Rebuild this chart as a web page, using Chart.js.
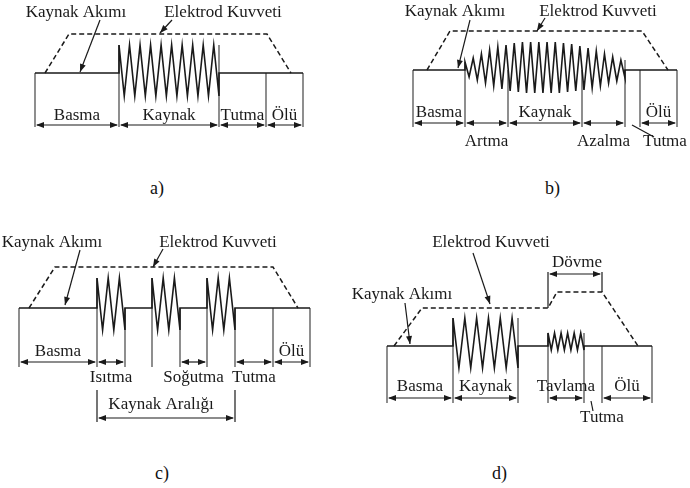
<!DOCTYPE html>
<html>
<head>
<meta charset="utf-8">
<script src="https://cdn.jsdelivr.net/npm/chart.js@4.4.0/dist/chart.umd.min.js"></script>
<style>
  body { margin: 0; background: #fff; width: 690px; height: 488px; position: relative; overflow: hidden; font-family: 'Liberation Serif', 'DejaVu Serif', serif; }
  canvas { position: absolute; }
  .cap { position: absolute; font-size: 18px; color: #111; line-height: 18px; }
</style>
</head>
<body>
<canvas id="pa"></canvas>
<canvas id="pb"></canvas>
<canvas id="pc"></canvas>
<canvas id="pd"></canvas>
<div class="cap" style="left:150px;top:179px">a)</div>
<div class="cap" style="left:545px;top:179px">b)</div>
<div class="cap" style="left:155px;top:464px">c)</div>
<div class="cap" style="left:492px;top:464px">d)</div>
<script>
// series names shown on every panel
const seriesNames = ['Kaynak Akımı', 'Elektrod Kuvveti'];

// a) basic cycle: phase boundaries (time), phase names, current bursts, force profile
const aBounds = [0, 84, 184, 231, 268];
const aPhases = ['Basma', 'Kaynak', 'Tutma', 'Ölü'];
const aPeaks = [28, 28, 28, 28, 28, 28, 28, 28, 28, 28];
const aTroughs = [-23, -23, -23, -23, -23, -23, -23, -23, -23, -23];
const aForceT = [10, 34, 232, 256];
const aForce = [0, 39, 39, 0];

// b) with current up-slope / down-slope
const bBounds = [0, 52, 95, 169, 212, 227, 264];
const bPhases = ['Basma', 'Artma', 'Kaynak', 'Azalma', 'Tutma', 'Ölü'];
const bPeaks = [8, 12, 16, 20, 23, 25, 27, 28, 28, 28, 28, 28, 27, 26, 24, 22, 19, 16, 13, 10];
const bTroughs = [-7, -10, -13, -16, -19, -21, -22, -23, -23, -23, -23, -23, -22, -21, -20, -18, -16, -13, -11, -8];
const bForceT = [14, 37, 229, 255];
const bForce = [0, 39, 39, 0];

// c) pulsed welding
const cBounds = [0, 78, 106, 133, 161, 188, 216, 254, 291];
const cPhases = ['Basma', 'Isıtma', '', '', 'Soğutma', '', 'Tutma', 'Ölü'];
const cPeaks = [30, 30, 30];
const cTroughs = [-22, -22, -22];
const cForceT = [10, 36, 254, 279];
const cForce = [0, 41, 41, 0];
const cRange = 'Kaynak Aralığı';

// d) with tempering and forging force
const dBounds = [0, 66, 131, 161, 197, 215, 265];
const dPhases = ['Basma', 'Kaynak', '', 'Tavlama', 'Tutma', 'Ölü'];
const dPeaks1 = [28, 28, 28, 28, 28, 28];
const dTroughs1 = [-22, -22, -22, -22, -22, -22];
const dPeaks2 = [13, 13, 13, 13, 13, 13];
const dTroughs2 = [-4, -4, -4, -4, -4, -4];
const dForceT = [7, 35, 161, 170, 215, 251];
const dForce = [0, 38, 38, 54, 54, 0];
const dForge = 'Dövme';

const INK = '#1a1a1a';
const FONT = "17px 'Liberation Serif', serif";

// zigzag of n peaks / n troughs between s and e, ending on a trough at e
function zigzag(s, e, peaks, troughs) {
  const d = (e - s) / (2 * peaks.length - 1);
  const pts = [];
  peaks.forEach((p, i) => {
    pts.push({ x: s + 2 * i * d, y: p });
    pts.push({ x: s + (2 * i + 1) * d, y: troughs[i] });
  });
  return pts;
}

function currentLine(bounds, bursts) {
  const pts = [{ x: bounds[0], y: 0 }];
  bursts.forEach(b => {
    pts.push({ x: b.s, y: 0 });
    pts.push(...zigzag(b.s, b.e, b.peaks, b.troughs));
    pts.push({ x: b.e, y: 0 });
  });
  pts.push({ x: bounds[bounds.length - 1], y: 0 });
  return pts;
}

function dividerLines(bounds, bursts, bottom, endTop) {
  const pts = [];
  bounds.forEach(t => {
    let top = 0;
    bursts.forEach(b => {
      if (b.s === t) top = b.peaks[0];
      if (b.e === t && endTop) top = b.peaks[b.peaks.length - 1];
    });
    pts.push({ x: t, y: top }, { x: t, y: bottom }, { x: t, y: null });
  });
  return pts;
}

function head(ctx, x1, y1, x2, y2, len, half) {
  const a = Math.atan2(y2 - y1, x2 - x1);
  const c = Math.cos(a), s = Math.sin(a);
  ctx.beginPath();
  ctx.moveTo(x2, y2);
  ctx.lineTo(x2 - len * c + half * s, y2 - len * s - half * c);
  ctx.lineTo(x2 - len * c - half * s, y2 - len * s + half * c);
  ctx.closePath();
  ctx.fill();
}

// draws dimension arrows, phase names and leader notes through the chart scales
const notesPlugin = {
  id: 'notes',
  afterDatasetsDraw(chart) {
    const L = chart.options.plugins.notes;
    const X = v => chart.scales.x.getPixelForValue(v);
    const Y = v => chart.scales.y.getPixelForValue(v);
    const ctx = chart.ctx;
    ctx.save();
    ctx.strokeStyle = INK;
    ctx.fillStyle = INK;
    ctx.lineWidth = 1.2;
    ctx.font = FONT;
    ctx.textAlign = 'center';
    ctx.textBaseline = 'middle';

    const dim = (a, b, y) => {
      const xa = X(a), xb = X(b), py = Y(y);
      ctx.beginPath();
      ctx.moveTo(xa + 2, py);
      ctx.lineTo(xb - 2, py);
      ctx.stroke();
      head(ctx, xb, py, xa + 1, py, 8, 3);
      head(ctx, xa, py, xb - 1, py, 8, 3);
    };

    L.phases.forEach((name, i) => {
      const a = L.bounds[i], b = L.bounds[i + 1];
      if (L.arrows.includes(i)) dim(a, b, L.arrowY);
      if (L.up.includes(i)) ctx.fillText(name, X((a + b) / 2), Y(L.upY));
      if (L.down.includes(i)) ctx.fillText(name, X((a + b) / 2), Y(L.downY));
    });

    (L.extra || []).forEach(e => {
      dim(e.a, e.b, e.y);
      e.ticks.forEach(tk => {
        ctx.beginPath();
        ctx.moveTo(X(tk[0]), Y(tk[1]));
        ctx.lineTo(X(tk[0]), Y(tk[2]));
        ctx.stroke();
      });
      ctx.fillText(e.text, X(e.tx), Y(e.ty));
    });

    L.notes.forEach(n => {
      ctx.fillText(n.text, X(n.x), Y(n.y));
      const x1 = X(n.from[0]), y1 = Y(n.from[1]), x2 = X(n.to[0]), y2 = Y(n.to[1]);
      ctx.beginPath();
      ctx.moveTo(x1, y1);
      ctx.lineTo(x2, y2);
      ctx.stroke();
      if (n.head) head(ctx, x1, y1, x2, y2, 8, 3);
    });
    ctx.restore();
  }
};

function makePanel(id, box, origin, data, notes) {
  const el = document.getElementById(id);
  el.style.left = box[0] + 'px';
  el.style.top = box[1] + 'px';
  el.width = box[2];
  el.height = box[3];
  const bursts = data.bursts;
  new Chart(el, {
    type: 'scatter',
    data: {
      datasets: [
        {
          data: currentLine(data.bounds, bursts),
          showLine: true, borderColor: INK, borderWidth: 1.6, pointRadius: 0
        },
        {
          data: dividerLines(data.bounds, bursts, notes.bottom, data.endTop),
          showLine: true, spanGaps: false, borderColor: '#333', borderWidth: 1.1, pointRadius: 0
        },
        {
          data: data.forceT.map((t, i) => ({ x: t, y: data.force[i] })),
          showLine: true, borderColor: INK, borderWidth: 1.5, borderDash: [5, 3], pointRadius: 0
        }
      ]
    },
    options: {
      responsive: false,
      animation: false,
      events: [],
      layout: { padding: 0 },
      scales: {
        x: { type: 'linear', display: false, min: box[0] - origin[0], max: box[0] + box[2] - origin[0] },
        y: { type: 'linear', display: false, min: origin[1] - box[1] - box[3], max: origin[1] - box[1] }
      },
      plugins: {
        legend: { display: false },
        tooltip: { enabled: false },
        notes: Object.assign({ bounds: data.bounds, phases: data.phases }, notes)
      }
    },
    plugins: [notesPlugin]
  });
}

makePanel('pa', [0, 0, 345, 165], [35, 73], {
  bounds: aBounds, phases: aPhases, forceT: aForceT, force: aForce, endTop: true,
  bursts: [{ s: aBounds[1], e: aBounds[2], peaks: aPeaks, troughs: aTroughs }]
}, {
  bottom: -54, arrowY: -52, upY: -43, downY: -70,
  arrows: [0, 1, 2, 3], up: [0, 1, 2, 3], down: [],
  notes: [
    { text: seriesNames[0], x: 41, y: 60, from: [65, 53], to: [45, 1], head: true },
    { text: seriesNames[1], x: 188, y: 60, from: [137, 53], to: [125, 40], head: true }
  ]
});

makePanel('pb', [345, 0, 345, 165], [413, 70], {
  bounds: bBounds, phases: bPhases, forceT: bForceT, force: bForce, endTop: true,
  bursts: [{ s: bBounds[1], e: bBounds[4], peaks: bPeaks, troughs: bTroughs }]
}, {
  bottom: -57, arrowY: -53, upY: -43, downY: -72,
  arrows: [0, 1, 2, 3, 5], up: [0, 2, 5], down: [1, 3],
  notes: [
    { text: seriesNames[0], x: 42, y: 58, from: [57, 50], to: [45, 2], head: true },
    { text: seriesNames[1], x: 185, y: 58, from: [132, 52], to: [124, 39], head: true },
    { text: bPhases[4], x: 252, y: -72, from: [241, -67], to: [219, -55], head: false }
  ]
});

makePanel('pc', [0, 232, 345, 200], [19, 308], {
  bounds: cBounds, phases: cPhases, forceT: cForceT, force: cForce, endTop: false,
  bursts: [
    { s: cBounds[1], e: cBounds[2], peaks: cPeaks, troughs: cTroughs },
    { s: cBounds[3], e: cBounds[4], peaks: cPeaks, troughs: cTroughs },
    { s: cBounds[5], e: cBounds[6], peaks: cPeaks, troughs: cTroughs }
  ]
}, {
  bottom: -59, arrowY: -54, upY: -44, downY: -70,
  arrows: [0, 1, 4, 6, 7], up: [0, 7], down: [1, 4, 6],
  extra: [
    { a: cBounds[1], b: cBounds[6], y: -110, ticks: [[cBounds[1], -82, -114], [cBounds[6], -82, -114]],
      text: cRange, tx: 142, ty: -97 }
  ],
  notes: [
    { text: seriesNames[0], x: 33, y: 65, from: [61, 58], to: [46, 3], head: true },
    { text: seriesNames[1], x: 199, y: 65, from: [144, 59], to: [134, 41], head: true }
  ]
});

makePanel('pd', [345, 232, 345, 200], [387, 346], {
  bounds: dBounds, phases: dPhases, forceT: dForceT, force: dForce, endTop: true,
  bursts: [
    { s: dBounds[1], e: dBounds[2], peaks: dPeaks1, troughs: dTroughs1 },
    { s: dBounds[3], e: dBounds[4], peaks: dPeaks2, troughs: dTroughs2 }
  ]
}, {
  bottom: -57, arrowY: -52, upY: -41, downY: -72,
  arrows: [0, 1, 3, 5], up: [0, 1, 3, 5], down: [],
  extra: [
    { a: dForceT[2], b: dForceT[4], y: 72, ticks: [[dForceT[2], 74, 38], [dForceT[4], 74, 54]],
      text: dForge, tx: 190, ty: 83 }
  ],
  notes: [
    { text: seriesNames[1], x: 104, y: 103, from: [86, 93], to: [103, 42], head: true },
    { text: seriesNames[0], x: 15, y: 51, from: [18, 43], to: [23, 2], head: true },
    { text: dPhases[4], x: 215, y: -72, from: [206, -65], to: [204, -55], head: false }
  ]
});
</script>
</body>
</html>
